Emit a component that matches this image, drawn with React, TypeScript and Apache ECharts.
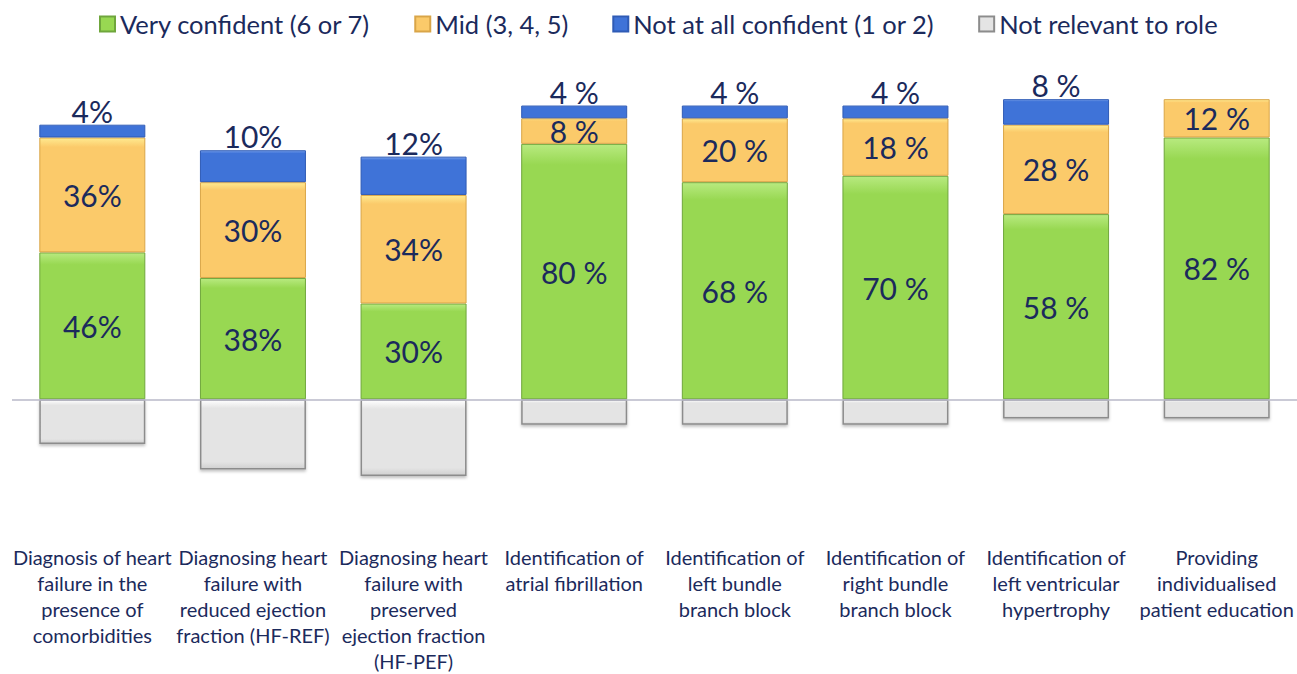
import React, { useEffect, useRef } from "react";
import * as echarts from "echarts";

const categories = [
  "Diagnosis of heart\nfailure in the\npresence of\ncomorbidities",
  "Diagnosing heart\nfailure with\nreduced ejection\nfraction (HF-REF)",
  "Diagnosing heart\nfailure with\npreserved\nejection fraction\n(HF-PEF)",
  "Identification of\natrial fibrillation",
  "Identification of\nleft bundle\nbranch block",
  "Identification of\nright bundle\nbranch block",
  "Identification of\nleft ventricular\nhypertrophy",
  "Providing\nindividualised\npatient education",
];
const veryConfident = [46, 38, 30, 80, 68, 70, 58, 82];
const mid = [36, 30, 34, 8, 20, 18, 28, 12];
const notConfident = [4, 10, 12, 4, 4, 4, 8, 0];
const notRelevant = [-14, -22, -24, -8, -8, -8, -6, -6];
// label style per category: whether a space precedes "%"
const spacedPercent = [false, false, false, true, true, true, true, true];

const NAVY = "#1B2A5C";
const FONT = "Lato, 'Open Sans', sans-serif";

function fmt(p: any) {
  if (!p.value) return "";
  return spacedPercent[p.dataIndex] ? `${p.value} %` : `${p.value}%`;
}

function grad(top: string, bottom: string) {
  return new echarts.graphic.LinearGradient(0, 0, 0, 1, [
    { offset: 0, color: top },
    { offset: 0.08, color: bottom },
    { offset: 1, color: bottom },
  ]);
}

export default function App() {
  const ref = useRef<HTMLDivElement>(null);
  useEffect(() => {
    const chart = echarts.init(ref.current!, null, { renderer: "svg" });
    const labelBase = {
      show: true,
      color: NAVY,
      fontFamily: FONT,
      fontSize: 30,
      formatter: fmt,
    };
    chart.setOption({
      animation: false,
      textStyle: { fontFamily: FONT },
      legend: {
        top: 6,
        left: 94,
        itemGap: 44,
        itemWidth: 15,
        itemHeight: 15,
        icon: "rect",
        textStyle: { color: NAVY, fontSize: 25.5, fontFamily: FONT },
        data: [
          "Very confident (6 or 7)",
          "Mid (3, 4, 5)",
          "Not at all confident (1 or 2)",
          "Not relevant to role",
        ],
      },
      grid: { left: 12, right: 0, top: 80, bottom: 146 },
      xAxis: {
        type: "category",
        data: categories,
        axisLine: { show: false, onZero: false },
        axisTick: { show: false },
        axisLabel: {
          color: NAVY,
          fontSize: 20,
          fontFamily: FONT,
          lineHeight: 26,
          margin: 17,
          interval: 0,
          verticalAlign: "top",
        },
      },
      yAxis: {
        type: "value",
        min: -40,
        max: 100,
        show: false,
        splitLine: { show: false },
      },
      series: [
        {
          name: "Very confident (6 or 7)",
          type: "bar",
          stack: "a",
          barWidth: 106,
          data: veryConfident,
          itemStyle: {
            color: grad("#B8EA80", "#98D852"),
            borderColor: "#6FA63C",
            borderWidth: 1,
          },
          label: { ...labelBase, position: "inside" },
          markLine: {
            silent: true,
            symbol: "none",
            label: { show: false },
            lineStyle: { color: "#B8B8C8", width: 1.5, type: "solid" },
            data: [{ yAxis: 0 }],
          },
        },
        {
          name: "Mid (3, 4, 5)",
          type: "bar",
          stack: "a",
          data: mid,
          itemStyle: {
            color: grad("#FFEA90", "#FBCA6A"),
            borderColor: "#D9A548",
            borderWidth: 1,
          },
          label: { ...labelBase, position: "inside" },
        },
        {
          name: "Not at all confident (1 or 2)",
          type: "bar",
          stack: "a",
          data: notConfident.map((v) => (v === 0 ? "-" : v)),
          itemStyle: {
            color: grad("#77A2EE", "#3F73D8"),
            borderColor: "#2F5BB5",
            borderWidth: 1,
          },
          label: { ...labelBase, position: "top", distance: -1 },
        },
        {
          name: "Not relevant to role",
          type: "bar",
          stack: "a",
          data: notRelevant,
          itemStyle: {
            color: new echarts.graphic.LinearGradient(0, 0, 0, 1, [
              { offset: 0, color: "#FFFFFF" },
              { offset: 0.12, color: "#E4E4E4" },
              { offset: 0.9, color: "#E4E4E4" },
              { offset: 1, color: "#D0D0D0" },
            ]),
            borderColor: "#8C8C8C",
            borderWidth: 1.5,
            shadowColor: "rgba(0,0,0,0.25)",
            shadowBlur: 3,
            shadowOffsetY: 2,
          },
          label: { show: false },
        },
      ],
    });
    return () => chart.dispose();
  }, []);
  return (
    <div
      ref={ref}
      style={{ position: "absolute", left: 0, top: 0, width: 1297, height: 674 }}
    />
  );
}
